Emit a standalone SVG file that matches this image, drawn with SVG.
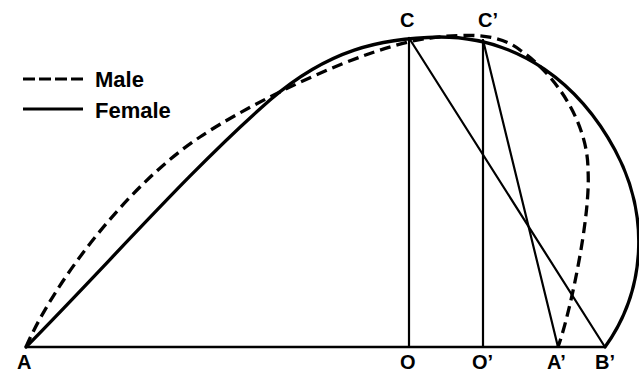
<svg xmlns="http://www.w3.org/2000/svg" width="639" height="372" viewBox="0 0 639 372">
<style>
.bg{fill:#ffffff}
.curve{fill:none;stroke:#000;stroke-width:3.3;stroke-linecap:round;stroke-linejoin:round}
.male{stroke-dasharray:11 6;stroke-linecap:butt}
.thin{fill:none;stroke:#000;stroke-width:2.2;stroke-linecap:round}
.lbl{font-family:"Liberation Sans",Arial,sans-serif;font-weight:bold;font-size:20px;fill:#000}
.leg{font-family:"Liberation Sans",Arial,sans-serif;font-weight:bold;font-size:22px;fill:#000}
</style>
<rect class="bg" x="0" y="0" width="639" height="372"/>
<g id="legend">
  <line class="curve male" x1="23" y1="79" x2="83" y2="79" style="stroke-dasharray:12 4;stroke-width:3"/>
  <text class="leg" x="95" y="87">Male</text>
  <line class="curve" x1="23" y1="109" x2="83" y2="109" style="stroke-width:3;stroke-linecap:butt"/>
  <text class="leg" x="95" y="118">Female</text>
</g>
<g id="connectors">
  <line id="baseline" class="thin" x1="26" y1="347" x2="605" y2="347" style="stroke-width:2.5"/>
  <line id="CO" class="thin" x1="409" y1="38" x2="409" y2="347"/>
  <line id="CpOp" class="thin" x1="483" y1="40" x2="483" y2="347"/>
  <line id="CBp" class="thin" x1="409" y1="38" x2="605" y2="347"/>
  <line id="CpAp" class="thin" x1="483" y1="40" x2="558" y2="347"/>
</g>
<g id="female-curve">
  <path class="curve" d="M26,347 C110,262 190,170 270,100 C328,50 380,38 440,37 C520,37 580,85 615,150 C650,215 646,290 605,347"/>
</g>
<g id="male-curve">
  <path class="curve male" d="M26,347 C55,280 130,183 200,137 C247,105 365,46 430,38 C470,33 500,34 520,50 C558,76 588,125 588,170 C591,215 570,314 558,347"/>
</g>
<g id="labels">
  <g id="node-C"><text class="lbl" x="400" y="27">C</text></g>
  <g id="node-Cp"><text class="lbl" x="478" y="27">C’</text></g>
  <g id="node-A"><text class="lbl" x="17" y="369">A</text></g>
  <g id="node-O"><text class="lbl" x="400" y="369">O</text></g>
  <g id="node-Op"><text class="lbl" x="472" y="369">O’</text></g>
  <g id="node-Ap"><text class="lbl" x="547" y="369">A’</text></g>
  <g id="node-Bp"><text class="lbl" x="595" y="369">B’</text></g>
</g>
</svg>
